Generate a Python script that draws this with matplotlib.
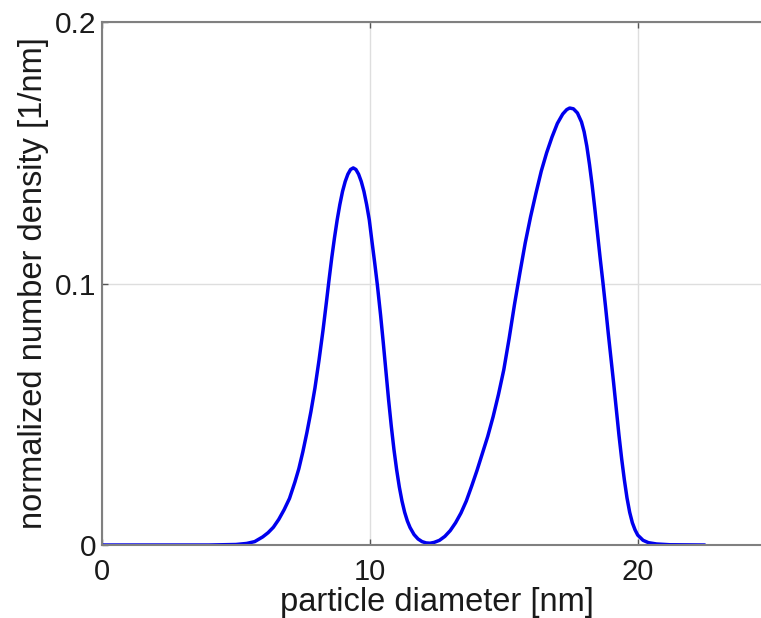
"""Bimodal particle size distribution (normalized number density)."""

import matplotlib

matplotlib.use("Agg")
import matplotlib.pyplot as plt

# values
diameter_nm = [
    0.0, 2.0, 4.0, 5.0, 5.4, 5.7, 6.0, 6.2, 6.4, 6.6, 6.8, 7.0, 7.2, 7.35,
    7.5, 7.65, 7.8, 7.95, 8.1, 8.25, 8.38, 8.48, 8.58, 8.68, 8.78, 8.88,
    8.98, 9.08, 9.18, 9.28, 9.38, 9.48, 9.58, 9.68, 9.78, 9.88, 9.98, 10.08,
    10.18, 10.28, 10.4, 10.5, 10.6, 10.7, 10.8, 10.9, 11.0, 11.1, 11.2,
    11.3, 11.4, 11.5, 11.65, 11.8, 11.95, 12.1, 12.25, 12.4, 12.6, 12.8,
    13.0, 13.2, 13.4, 13.6, 13.8, 14.0, 14.2, 14.4, 14.6, 14.8, 15.0, 15.2,
    15.4, 15.6, 15.8, 16.0, 16.2, 16.4, 16.6, 16.8, 17.0, 17.2, 17.35,
    17.46, 17.6, 17.75, 17.9, 18.0, 18.1, 18.2, 18.3, 18.4, 18.5, 18.6,
    18.7, 18.8, 18.9, 19.0, 19.1, 19.2, 19.3, 19.4, 19.5, 19.6, 19.7, 19.8,
    19.9, 20.0, 20.2, 20.4, 20.7, 21.2, 22.5,
]
density = [
    0.0, 0.0, 0.0, 0.0002, 0.0006, 0.0013, 0.0031, 0.0047, 0.0068, 0.0098,
    0.0135, 0.0178, 0.024, 0.0292, 0.0357, 0.043, 0.051, 0.060, 0.0705,
    0.082, 0.093, 0.1017, 0.110, 0.1175, 0.1243, 0.1302, 0.1352, 0.139,
    0.1418, 0.1436, 0.1442, 0.1436, 0.1418, 0.139, 0.1352, 0.1302, 0.1243,
    0.116, 0.108, 0.0995, 0.088, 0.0775, 0.0665, 0.0555, 0.0455, 0.0365,
    0.0288, 0.0222, 0.0168, 0.0125, 0.0092, 0.0067, 0.004, 0.0023, 0.0013,
    0.0008, 0.0007, 0.001, 0.0018, 0.0033, 0.0055, 0.0085, 0.0122, 0.0168,
    0.0225, 0.0285, 0.035, 0.0415, 0.049, 0.0575, 0.067, 0.079, 0.092,
    0.104, 0.1155, 0.1255, 0.1345, 0.143, 0.150, 0.156, 0.1612, 0.1648,
    0.1665, 0.1671, 0.1668, 0.1652, 0.1618, 0.158, 0.1525, 0.1455, 0.1375,
    0.1285, 0.119, 0.1095, 0.1005, 0.091, 0.081, 0.0715, 0.062, 0.052,
    0.042, 0.033, 0.025, 0.018, 0.0125, 0.0085, 0.0058, 0.0038, 0.0018,
    0.0009, 0.0004, 0.0001, 0.0,
]
x_ticks = [0, 10, 20]
y_ticks = [0, 0.1, 0.2]
y_tick_labels = ["0", "0.1", "0.2"]

plt.rcParams.update(
    {
        "font.family": ["Liberation Sans", "DejaVu Sans"],
        "font.size": 21.5,
    }
)

fig = plt.figure(figsize=(7.61, 6.18), dpi=100)
# the reference crops the axes box on the right at x ~ 24.6
ax = fig.add_axes([0.134, 0.1181, 0.880, 0.8463])

ax.plot(diameter_nm, density, color="#0000ee", linewidth=2.5,
        solid_joinstyle="round", solid_capstyle="round")

ax.set_xlim(0, 25)
ax.set_ylim(0, 0.2)
ax.set_xticks(x_ticks)
ax.set_yticks(y_ticks)
ax.set_yticklabels(y_tick_labels)
ax.grid(True, color="#dedede", linewidth=1.0)
ax.set_axisbelow(True)

for spine in ax.spines.values():
    spine.set_color("#808080")
    spine.set_linewidth(1.5)

ax.tick_params(
    direction="in", length=4, width=1.0, color="#555555",
    top=True, right=True, labelsize=21.5, labelcolor="#1a1a1a",
)
ax.tick_params(axis="x", pad=9, labelsize=21)
ax.tick_params(axis="y", pad=4)

ax.set_xlabel("particle diameter [nm]", fontsize=23.5, color="#1a1a1a", labelpad=1)
ax.set_ylabel("normalized number density [1/nm]", fontsize=23.5, color="#1a1a1a", labelpad=4)

fig.savefig("out.png", dpi=100)
